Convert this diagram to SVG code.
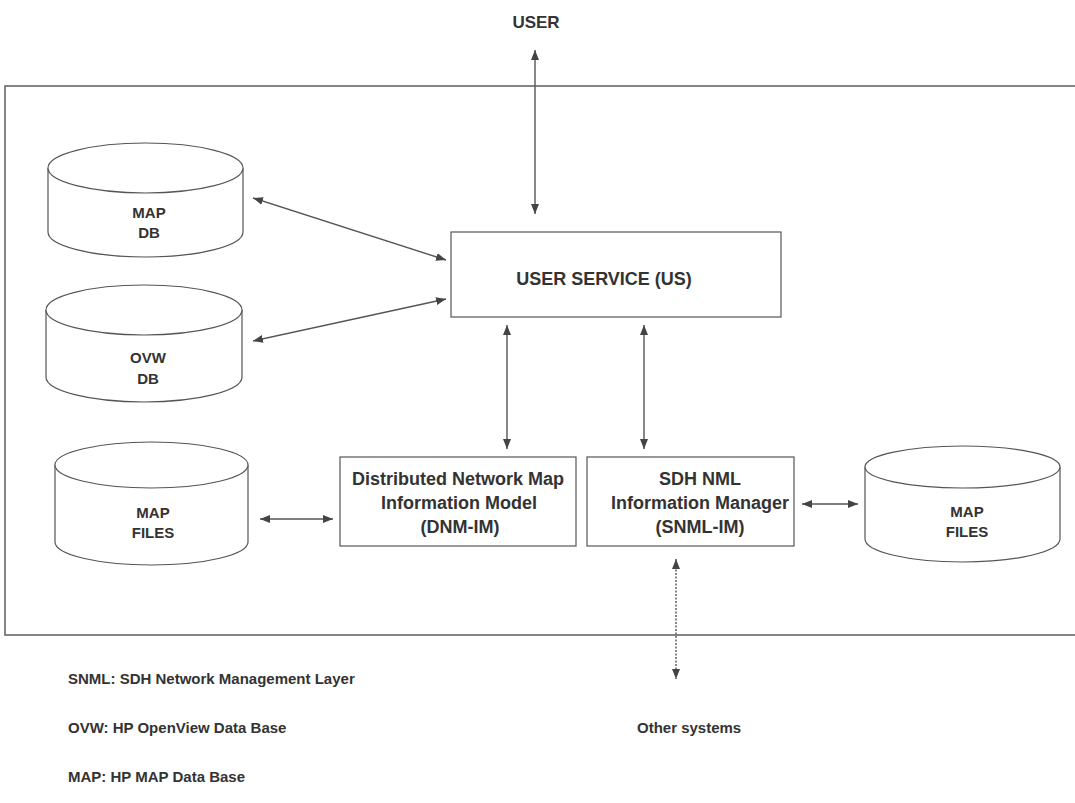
<svg xmlns="http://www.w3.org/2000/svg" width="1075" height="803" viewBox="0 0 1075 803">
  <style>
    .frame { fill: none; stroke: #666; stroke-width: 1.6; }
    .box { fill: #fff; stroke: #555; stroke-width: 1.2; }
    .cyl { fill: #fff; stroke: #555; stroke-width: 1.2; }
    .conn { fill: none; stroke: #555; stroke-width: 1.4; }
    .dotted { stroke-dasharray: 2 1.5; }
    text { font-family: "Liberation Sans", Arial, sans-serif; font-weight: bold; fill: #333; }
    .t18 { font-size: 18px; text-anchor: middle; }
    .t15 { font-size: 15px; text-anchor: middle; }
    .leg { font-size: 15px; }
  </style>
  <defs>
    <marker id="ah" viewBox="0 0 10 8" refX="10" refY="4" markerWidth="10" markerHeight="8" markerUnits="userSpaceOnUse" orient="auto-start-reverse">
      <path d="M0,0 L10,4 L0,8 Z" fill="#444"/>
    </marker>
  </defs>

  <rect width="1075" height="803" fill="#fff"/>

  <!-- system boundary (right side runs off the page) -->
  <rect class="frame" x="5" y="86" width="1080" height="549"/>

  <text id="user" class="t18" x="536" y="28" style="font-size:17px">USER</text>

  <g id="connectors">
    <line class="conn" x1="535" y1="50" x2="535" y2="214" marker-start="url(#ah)" marker-end="url(#ah)"/>
    <line class="conn" x1="253" y1="198" x2="446" y2="260" marker-start="url(#ah)" marker-end="url(#ah)"/>
    <line class="conn" x1="253" y1="341" x2="446" y2="299" marker-start="url(#ah)" marker-end="url(#ah)"/>
    <line class="conn" x1="507" y1="325" x2="507" y2="449" marker-start="url(#ah)" marker-end="url(#ah)"/>
    <line class="conn" x1="644" y1="325" x2="644" y2="449" marker-start="url(#ah)" marker-end="url(#ah)"/>
    <line class="conn" x1="260" y1="519" x2="333" y2="519" marker-start="url(#ah)" marker-end="url(#ah)"/>
    <line class="conn" x1="802" y1="504" x2="858" y2="504" marker-start="url(#ah)" marker-end="url(#ah)"/>
    <line class="conn dotted" x1="676" y1="559" x2="676" y2="679" marker-start="url(#ah)" marker-end="url(#ah)"/>
  </g>

  <g id="map-db">
    <path class="cyl" d="M48,168 L48,232 A97.5,25 0 0 0 243,232 L243,168"/>
    <ellipse class="cyl" cx="145.5" cy="168" rx="97.5" ry="25"/>
    <text class="t15" x="149" y="218">MAP</text>
    <text class="t15" x="149" y="238">DB</text>
  </g>

  <g id="ovw-db">
    <path class="cyl" d="M46,310 L46,377 A98,25 0 0 0 242,377 L242,310"/>
    <ellipse class="cyl" cx="144" cy="310" rx="98" ry="25"/>
    <text class="t15" x="148" y="363">OVW</text>
    <text class="t15" x="148" y="384">DB</text>
  </g>

  <g id="map-files-left">
    <path class="cyl" d="M55,465 L55,542 A96.5,23 0 0 0 248,542 L248,465"/>
    <ellipse class="cyl" cx="151.5" cy="465" rx="96.5" ry="23"/>
    <text class="t15" x="153" y="518">MAP</text>
    <text class="t15" x="153" y="538">FILES</text>
  </g>

  <g id="map-files-right">
    <path class="cyl" d="M865,467 L865,539 A97.5,23 0 0 0 1060,539 L1060,467"/>
    <ellipse class="cyl" cx="962.5" cy="467" rx="97.5" ry="21"/>
    <text class="t15" x="967" y="517">MAP</text>
    <text class="t15" x="967" y="537">FILES</text>
  </g>

  <g id="user-service">
    <rect class="box" x="451" y="232" width="330" height="85"/>
    <text class="t18" x="604" y="285">USER SERVICE (US)</text>
  </g>

  <g id="dnm-im">
    <rect class="box" x="340" y="457" width="236" height="89"/>
    <text class="t18" x="458" y="485">Distributed Network Map</text>
    <text class="t18" x="459" y="509">Information Model</text>
    <text class="t18" x="460" y="533">(DNM-IM)</text>
  </g>

  <g id="snml-im">
    <rect class="box" x="587" y="457" width="207" height="89"/>
    <text class="t18" x="700" y="485">SDH NML</text>
    <text class="t18" x="700" y="509">Information Manager</text>
    <text class="t18" x="700" y="533">(SNML-IM)</text>
  </g>

  <text id="other-systems" class="leg" x="637" y="733">Other systems</text>

  <g id="legend">
    <text class="leg" x="68" y="684">SNML: SDH Network Management Layer</text>
    <text class="leg" x="68" y="733">OVW: HP OpenView Data Base</text>
    <text class="leg" x="68" y="782">MAP: HP MAP Data Base</text>
  </g>
</svg>
